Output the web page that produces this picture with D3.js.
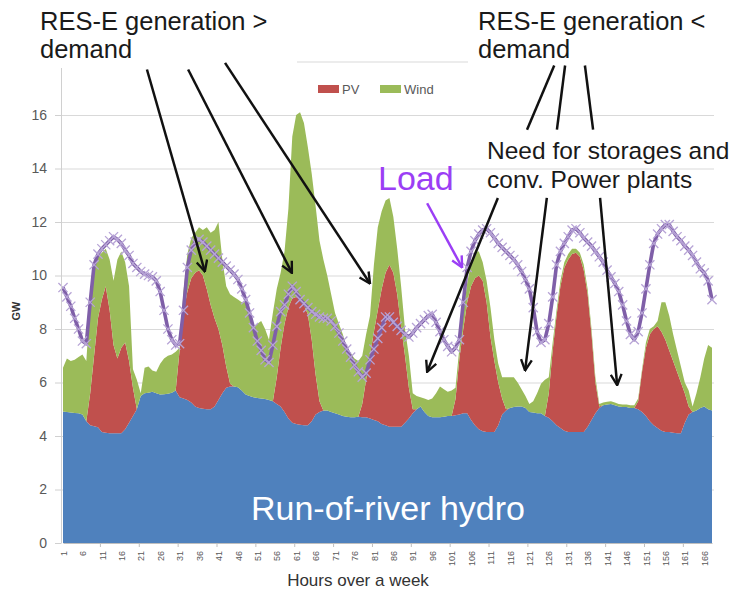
<!DOCTYPE html>
<html>
<head>
<meta charset="utf-8">
<script src="https://cdn.jsdelivr.net/npm/d3@7"></script>
<style>
body { margin: 0; background: #fff; }
text { font-family: "Liberation Sans", Arial, sans-serif; }
</style>
</head>
<body>
<div id="chart"></div>
<script>
var width = 733;
var height = 595;

// hours of the week (categories)
var hours = d3.range(1, 169);

// GW per hour
var hydro = [
	4.92, 4.90, 4.88, 4.86, 4.85, 4.80, 4.55, 4.40, 4.36, 4.33, 4.15, 4.12,
	4.10, 4.10, 4.10, 4.10, 4.25, 4.50, 4.75, 5.00, 5.50, 5.60, 5.62, 5.65,
	5.60, 5.55, 5.56, 5.58, 5.62, 5.70, 5.45, 5.40, 5.35, 5.25, 5.10, 5.05,
	5.02, 5.00, 5.00, 5.10, 5.35, 5.60, 5.80, 5.85, 5.85, 5.82, 5.70, 5.55,
	5.50, 5.45, 5.42, 5.40, 5.38, 5.35, 5.30, 5.20, 5.10, 4.90, 4.65, 4.50,
	4.45, 4.42, 4.40, 4.40, 4.55, 4.80, 4.90, 4.95, 4.95, 4.90, 4.85, 4.80,
	4.75, 4.72, 4.70, 4.70, 4.72, 4.70, 4.70, 4.65, 4.60, 4.55, 4.45, 4.40,
	4.35, 4.35, 4.35, 4.35, 4.50, 4.65, 4.85, 5.00, 5.10, 4.90, 4.75, 4.70,
	4.70, 4.70, 4.72, 4.75, 4.75, 4.78, 4.80, 4.85, 4.85, 4.60, 4.40, 4.25,
	4.18, 4.15, 4.15, 4.15, 4.40, 4.80, 4.95, 5.05, 5.08, 5.10, 5.10, 5.05,
	4.90, 4.88, 4.85, 4.85, 4.75, 4.68, 4.55, 4.40, 4.30, 4.20, 4.15, 4.15,
	4.15, 4.15, 4.15, 4.35, 4.60, 4.85, 5.05, 5.15, 5.18, 5.20, 5.15, 5.10,
	5.08, 5.08, 5.05, 5.05, 5.00, 4.90, 4.75, 4.55, 4.40, 4.30, 4.20, 4.15,
	4.15, 4.12, 4.10, 4.10, 4.50, 4.80, 4.90, 4.95, 5.05, 5.10, 5.00, 4.95
];

var pv = [
	0, 0, 0, 0, 0, 0, 0, 1.20, 2.64, 4.07, 4.95, 5.48,
	4.60, 3.30, 2.80, 3.20, 3.25, 2.30, 1.05, 0, 0, 0, 0, 0,
	0, 0, 0, 0, 0, 0, 1.75, 3.20, 4.05, 4.65, 5.00, 5.15,
	4.98, 4.50, 3.90, 3.30, 2.65, 1.80, 0.80, 0.10, 0, 0, 0, 0,
	0, 0, 0, 0, 0, 0, 0, 1.00, 2.20, 3.30, 4.15, 4.65,
	4.75, 4.68, 4.50, 4.15, 3.05, 1.50, 0.40, 0, 0, 0, 0, 0,
	0, 0, 0, 0, 0, 0.50, 1.40, 2.35, 3.30, 4.15, 5.05, 5.70,
	6.05, 5.75, 4.95, 3.75, 2.50, 1.15, 0.15, 0, 0, 0, 0, 0,
	0, 0, 0, 0, 0, 0.60, 2.10, 3.15, 4.15, 5.00, 5.50, 5.75,
	5.62, 4.85, 3.55, 2.65, 1.60, 0.60, 0.05, 0, 0, 0, 0, 0,
	0, 0, 0, 0, 0, 0.92, 2.65, 4.10, 5.30, 6.10, 6.45, 6.65,
	6.70, 6.55, 6.05, 4.95, 3.20, 1.15, 0.05, 0, 0, 0, 0, 0,
	0, 0, 0, 0, 0.30, 1.50, 2.55, 3.25, 3.60, 3.80, 3.70, 3.45,
	3.05, 2.68, 2.30, 1.90, 1.10, 0.30, 0, 0, 0, 0, 0, 0
];

var wind = [
	1.63, 2.00, 1.92, 1.99, 2.10, 2.25, 2.25, 3.40, 3.40, 2.30, 1.75, 1.40,
	1.90, 2.40, 3.70, 3.60, 3.00, 2.80, 0.70, 1.10, 0.10, 0.95, 0.98, 0.80,
	0.80, 1.15, 1.34, 1.42, 1.43, 1.45, 0.10, 0.80, 1.40, 1.50, 1.50, 1.60,
	1.70, 2.30, 2.70, 3.30, 4.00, 3.20, 3.00, 3.35, 3.35, 3.28, 3.30, 3.45,
	3.10, 2.65, 2.78, 2.90, 2.62, 2.25, 3.30, 3.30, 2.80, 2.70, 3.70, 6.05,
	6.80, 7.00, 6.80, 6.25, 6.20, 6.30, 6.00, 5.65, 5.05, 4.40, 3.75, 3.40,
	3.05, 2.58, 2.40, 2.20, 2.08, 1.80, 1.70, 1.50, 2.50, 3.10, 2.90, 2.70,
	2.50, 2.10, 1.70, 1.50, 1.00, 1.20, 0.60, 0.50, 0.35, 0.50, 0.60, 0.70,
	0.90, 1.15, 1.03, 0.90, 0.95, 0.42, 0.40, 0.60, 0.70, 0.90, 1.00, 0.90,
	0.70, 0.80, 1.10, 0.80, 0.70, 0.80, 1.20, 1.15, 1.12, 0.90, 0.65, 0.45,
	0.30, 0.42, 0.75, 1.10, 1.35, 0.60, 0.30, 0.20, 0.20, 0.20, 0.20, 0.20,
	0.15, 0.15, 0.20, 0.20, 0.20, 0.20, 0.10, 0.10, 0.10, 0.10, 0.10, 0.10,
	0.10, 0.10, 0.10, 0.10, 0.10, 0.10, 0.20, 0.20, 0.10, 0.20, 1.10, 1.40,
	1.30, 1.00, 0.80, 0.60, 0.40, 0.60, 0.20, 0.65, 1.15, 1.80, 2.40, 2.35
];

var load = [
	9.55, 9.20, 8.85, 8.40, 8.00, 7.55, 7.45, 9.00, 10.40, 10.80, 11.00, 11.15,
	11.30, 11.45, 11.35, 11.20, 10.95, 10.75, 10.45, 10.30, 10.15, 10.05, 10.00, 9.95,
	9.80, 9.40, 8.70, 8.00, 7.60, 7.40, 7.45, 8.70, 10.30, 10.95, 11.25, 11.35,
	11.25, 11.10, 10.95, 10.80, 10.65, 10.50, 10.35, 10.20, 10.05, 9.85, 9.50, 9.10,
	8.60, 8.05, 7.55, 7.20, 6.85, 6.75, 7.40, 8.10, 8.65, 8.90, 9.30, 9.60,
	9.40, 9.10, 8.95, 8.80, 8.65, 8.55, 8.45, 8.40, 8.40, 8.30, 8.10, 7.85,
	7.55, 7.25, 6.95, 6.65, 6.40, 6.20, 6.35, 6.85, 7.25, 7.65, 8.05, 8.45,
	8.45, 8.25, 8.10, 7.95, 7.80, 7.70, 7.85, 8.05, 8.20, 8.35, 8.50, 8.55,
	8.25, 7.90, 7.60, 7.35, 7.15, 7.30, 7.60, 9.00, 10.30, 10.90, 11.30, 11.55,
	11.70, 11.75, 11.60, 11.40, 11.20, 11.05, 10.90, 10.75, 10.60, 10.40, 10.15, 9.85,
	9.50, 8.80, 7.90, 7.50, 7.60, 8.20, 9.20, 10.40, 10.90, 11.20, 11.45, 11.70,
	11.75, 11.60, 11.40, 11.25, 11.10, 10.90, 10.70, 10.50, 10.20, 9.95, 9.70, 9.40,
	8.90, 8.30, 7.80, 7.60, 7.90, 8.60, 9.50, 10.40, 11.20, 11.55, 11.75, 11.90,
	11.90, 11.65, 11.45, 11.30, 11.10, 10.95, 10.75, 10.50, 10.25, 10.10, 9.80, 9.10
];

var series = ["hydro", "pv", "wind"];
var seriesColor = { hydro: "#4f81bd", pv: "#c0504d", wind: "#9bbb59" };
var legendItems = [{ key: "pv", label: "PV" }, { key: "wind", label: "Wind" }];

var yTicks = [0, 2, 4, 6, 8, 10, 12, 14, 16];
var yGrid = [2, 4, 6, 8, 10, 12, 14, 16, 18];
var xTickLabels = [1, 6, 11, 16, 21, 26, 31, 36, 41, 46, 51, 56, 61, 66, 71, 76, 81,
	86, 91, 96, 101, 106, 111, 116, 121, 126, 131, 136, 141, 146, 151, 156, 161, 166];
var xTickMarks = [10.5, 20.5, 30.5, 40.5, 50.5, 60.5, 70.5, 80.5, 90.5, 100.5, 110.5,
	120.5, 130.5, 140.5, 150.5, 160.5];

// annotations, arrow ends in (hour, GW)
var arrowsAbove = [
	[[22.6, 17.7], [37.5, 10.15]],
	[[33.2, 17.7], [59.9, 10.1]],
	[[42.7, 17.95], [80, 9.7]]
];
var linesBelow = [
	[[127.4, 17.85], [120.4, 15.45]],
	[[130.2, 17.85], [128.1, 15.45]],
	[[135.3, 17.85], [137.4, 15.45]]
];
var arrowsStorage = [
	[[112.9, 12.9], [94.7, 6.4]],
	[[125.5, 12.9], [119.9, 6.45]],
	[[139.2, 12.9], [143.6, 5.9]]
];
var loadArrow = [[94.7, 12.7], [103.7, 10.3]];

var table = hours.map(function (h, i) {
	return { hour: h, hydro: hydro[i], pv: pv[i], wind: wind[i], load: load[i] };
});

var x = d3.scaleLinear().domain([1, 168]).range([63, 712]);
var y = d3.scaleLinear().domain([0, 18]).range([543, 61.5]);

var svg = d3.select("#chart").append("svg")
	.attr("width", width)
	.attr("height", height);

var defs = svg.append("defs");
function arrowMarker(id, color) {
	defs.append("marker")
		.attr("id", id)
		.attr("viewBox", "0 0 12 12")
		.attr("refX", 11)
		.attr("refY", 6)
		.attr("markerWidth", 13)
		.attr("markerHeight", 13)
		.attr("markerUnits", "userSpaceOnUse")
		.attr("orient", "auto")
		.append("path")
		.attr("d", "M1,1 L11,6 L1,11")
		.attr("fill", "none")
		.attr("stroke", color)
		.attr("stroke-width", 2.2);
}
arrowMarker("head-black", "#111");
arrowMarker("head-violet", "#9b3ef5");

draw_grid();
draw_areas();
draw_load();
draw_axes();
draw_boxes();
draw_legend();
draw_annotations();

function draw_grid() {
	svg.append("g")
		.attr("transform", "translate(61,0)")
		.call(d3.axisLeft(y).tickValues(yGrid).tickSize(-653).tickFormat(""))
		.call(function (g) {
			g.select(".domain").remove();
			g.selectAll("line").attr("stroke", "#d9d9d9");
		});
}

function draw_areas() {
	var stacked = d3.stack().keys(series)(table);
	var area = d3.area()
		.x(function (d) { return x(d.data.hour); })
		.y0(function (d) { return y(d[0]); })
		.y1(function (d) { return y(d[1]); });
	svg.append("g").selectAll("path")
		.data(stacked)
		.enter().append("path")
		.attr("d", area)
		.attr("fill", function (d) { return seriesColor[d.key]; });

	svg.append("text")
		.attr("x", 388)
		.attr("y", 520)
		.attr("text-anchor", "middle")
		.style("font-size", "34px")
		.style("fill", "#fff")
		.text("Run-of-river hydro");
}

function draw_load() {
	var line = d3.line()
		.x(function (d) { return x(d.hour); })
		.y(function (d) { return y(d.load); });
	svg.append("path")
		.datum(table)
		.attr("d", line)
		.attr("fill", "none")
		.attr("stroke", "#7f5fa8")
		.attr("stroke-width", 3.6)
		.attr("stroke-linejoin", "round");

	var s = 4.6;
	svg.append("g").selectAll("path")
		.data(table)
		.enter().append("path")
		.attr("d", function (d) {
			var cx = x(d.hour), cy = y(d.load);
			return "M" + (cx - s) + "," + (cy - s) + "L" + (cx + s) + "," + (cy + s) +
				"M" + (cx - s) + "," + (cy + s) + "L" + (cx + s) + "," + (cy - s);
		})
		.attr("stroke", "#b7a4d6")
		.attr("stroke-width", 1.3);
}

function draw_axes() {
	var yaxis = svg.append("g")
		.attr("transform", "translate(61,0)")
		.call(d3.axisLeft(y).tickValues(yTicks).tickSizeInner(6).tickSizeOuter(0).tickPadding(8));
	yaxis.select(".domain").attr("stroke", "#d0d0d0");
	yaxis.selectAll("line").attr("stroke", "#d0d0d0");
	yaxis.selectAll("text").attr("fill", "#595959").style("font-size", "14px")
		.style("font-family", "'Liberation Sans', Arial, sans-serif");

	var xaxis = svg.append("g")
		.attr("transform", "translate(0,543)")
		.call(d3.axisBottom(x).tickValues(xTickLabels).tickSize(0).tickPadding(0));
	xaxis.select(".domain").attr("stroke", "#bfbfbf");
	xaxis.selectAll("text")
		.attr("transform", "rotate(-90)")
		.attr("x", -8)
		.attr("y", 0)
		.attr("dy", "0.35em")
		.attr("fill", "#595959")
		.style("text-anchor", "end")
		.style("font-size", "9px")
		.style("font-family", "'Liberation Sans', Arial, sans-serif");

	var marks = svg.append("g")
		.attr("transform", "translate(0,543)")
		.call(d3.axisBottom(x).tickValues(xTickMarks).tickSize(4).tickFormat(""));
	marks.select(".domain").remove();
	marks.selectAll("line").attr("stroke", "#bfbfbf");

	svg.append("text")
		.attr("x", 358)
		.attr("y", 586)
		.attr("text-anchor", "middle")
		.style("font-size", "17px")
		.style("fill", "#333")
		.text("Hours over a week");

	svg.append("text")
		.attr("transform", "translate(20,311) rotate(-90)")
		.attr("text-anchor", "middle")
		.style("font-size", "11px")
		.style("font-weight", "bold")
		.style("fill", "#333")
		.text("GW");
}

// white text boxes of the slide sit over the top of the plot
function draw_boxes() {
	svg.append("rect").attr("x", 0).attr("y", 0).attr("width", 297).attr("height", 68).attr("fill", "#fff");
	svg.append("rect").attr("x", 468).attr("y", 0).attr("width", 265).attr("height", 66).attr("fill", "#fff");
}

function draw_legend() {
	var legend = svg.append("g").attr("transform", "translate(318,85)");
	var item = legend.selectAll("g")
		.data(legendItems)
		.enter().append("g")
		.attr("transform", function (d, i) { return "translate(" + (i * 62) + ",0)"; });
	item.append("rect")
		.attr("width", 21)
		.attr("height", 8)
		.attr("fill", function (d) { return seriesColor[d.key]; });
	item.append("text")
		.attr("x", 24)
		.attr("y", 9)
		.style("font-size", "13px")
		.style("fill", "#595959")
		.text(function (d) { return d.label; });
}

function draw_annotations() {
	var note = svg.append("g").style("fill", "#1a1a1a").style("font-size", "25.5px");
	note.append("text").attr("x", 40).attr("y", 30).text("RES-E generation >");
	note.append("text").attr("x", 40).attr("y", 58).text("demand");
	note.append("text").attr("x", 478).attr("y", 30).text("RES-E generation <");
	note.append("text").attr("x", 478).attr("y", 58).text("demand");
	note.append("text").attr("x", 487).attr("y", 159).style("font-size", "24.5px").text("Need for storages and");
	note.append("text").attr("x", 487).attr("y", 188).style("font-size", "24.5px").text("conv. Power plants");

	svg.append("text")
		.attr("x", 378)
		.attr("y", 190)
		.style("font-size", "34px")
		.style("fill", "#9b3ef5")
		.text("Load");

	function seg(g, list, color, head) {
		g.selectAll("line")
			.data(list)
			.enter().append("line")
			.attr("x1", function (d) { return x(d[0][0]); })
			.attr("y1", function (d) { return y(d[0][1]); })
			.attr("x2", function (d) { return x(d[1][0]); })
			.attr("y2", function (d) { return y(d[1][1]); })
			.attr("stroke", color)
			.attr("stroke-width", 2.5)
			.attr("marker-end", head ? "url(#" + head + ")" : null);
	}
	seg(svg.append("g"), arrowsAbove, "#111", "head-black");
	seg(svg.append("g"), linesBelow, "#111", null);
	seg(svg.append("g"), arrowsStorage, "#111", "head-black");
	seg(svg.append("g"), [loadArrow], "#9b3ef5", "head-violet");
}
</script>
</body>
</html>
